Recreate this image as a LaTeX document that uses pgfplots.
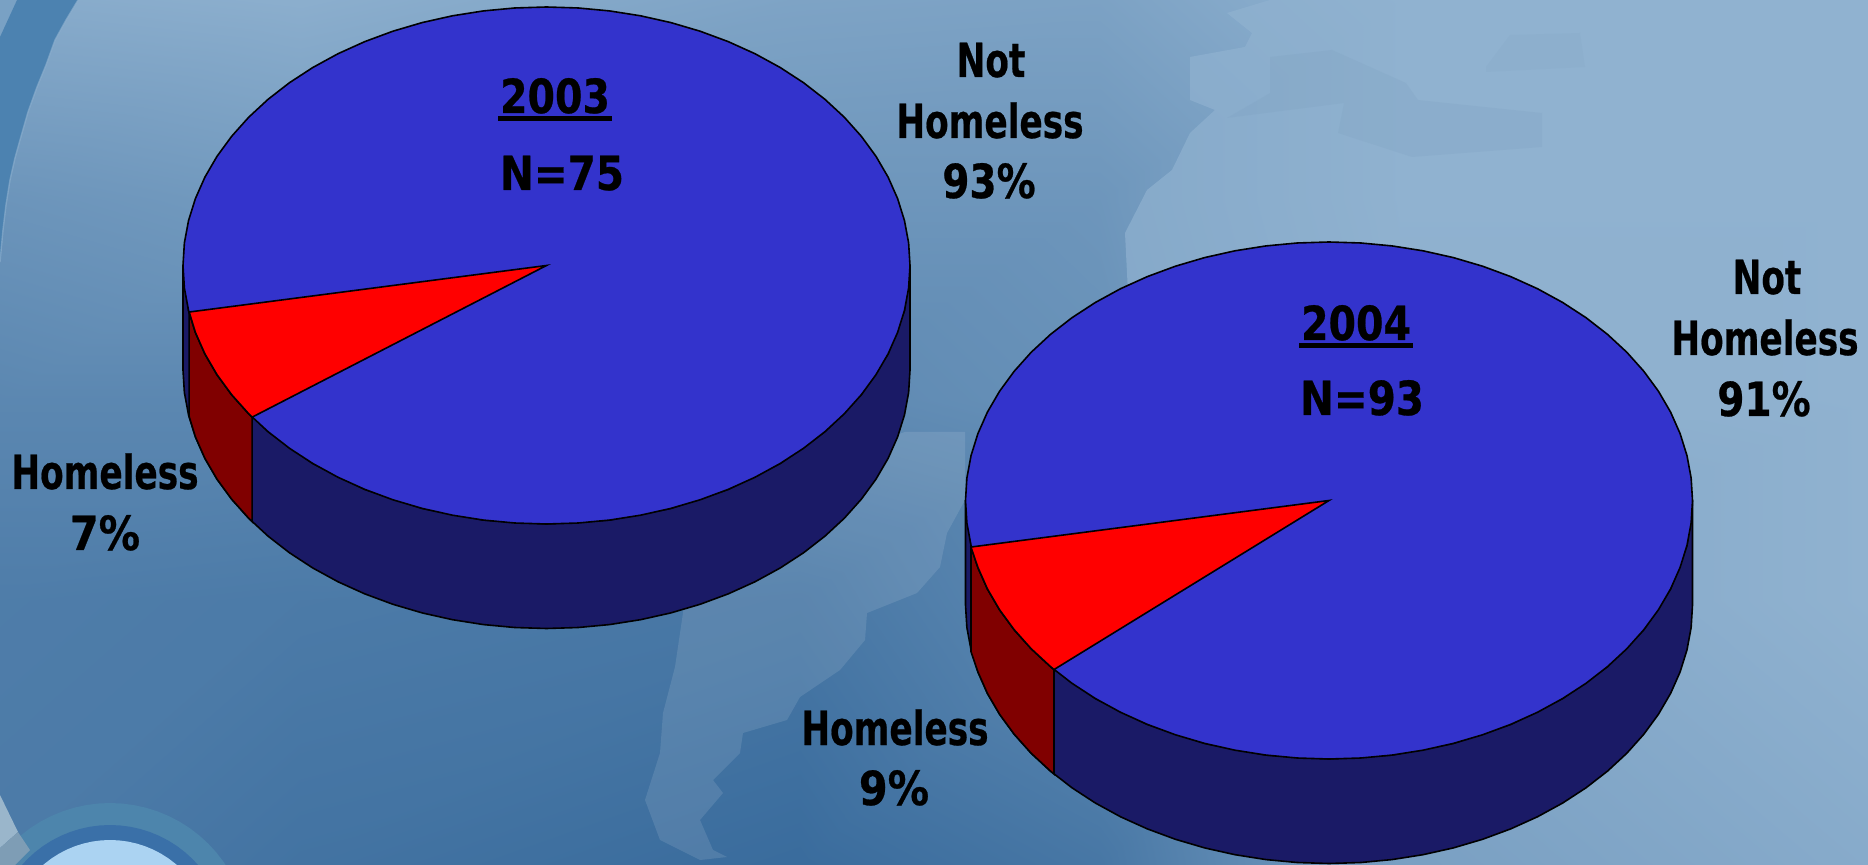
\documentclass[border=0pt]{standalone}
\usepackage{pgfplots}
\usepackage{pgfplotstable}
\usepackage{fontspec}
\setmainfont[BoldFeatures={FakeBold=0.6}]{DejaVu Sans}
\pgfplotsset{compat=1.18}
\usepgfplotslibrary{patchplots}

\definecolor{pieblue}{HTML}{3333CC}
\definecolor{pienavy}{HTML}{1A1A66}
\definecolor{piered}{HTML}{FF0000}
\definecolor{piedark}{HTML}{800000}
\definecolor{landlt}{HTML}{90B2D0}
\definecolor{seadk}{HTML}{7C9FBF}
\definecolor{bluefill}{HTML}{4C82B0}
\definecolor{globe}{HTML}{ABD3F2}
\definecolor{ringdk}{HTML}{3A70A8}
\definecolor{ringlt}{HTML}{4D85AC}
\definecolor{cornerlt}{HTML}{9AB6CB}
\definecolor{cornergr}{HTML}{7E9DB5}

% background brightness, 0 = dark ocean, 1 = pale land
\pgfplotstableread{
x y m
0 0 .90
300 0 .95
800 0 .80
1100 0 .78
1400 0 1
1868 0 1
0 200 .60
300 200 .68
800 200 .62
1100 200 .62
1400 200 1
1868 200 1
0 400 .42
300 400 .42
800 400 .45
1100 400 .55
1400 400 .95
1868 400 1
0 600 .28
300 600 .25
800 600 .20
1100 600 .45
1400 600 .85
1868 600 1
0 865 .25
300 865 .15
800 865 .05
1100 865 .20
1400 865 .75
1868 865 .90
}\bggrid

% unit ellipse, every 5 degrees
\pgfplotstableread{
u v
1.0000 0.0000
0.9962 0.0872
0.9848 0.1736
0.9659 0.2588
0.9397 0.3420
0.9063 0.4226
0.8660 0.5000
0.8192 0.5736
0.7660 0.6428
0.7071 0.7071
0.6428 0.7660
0.5736 0.8192
0.5000 0.8660
0.4226 0.9063
0.3420 0.9397
0.2588 0.9659
0.1736 0.9848
0.0872 0.9962
0.0000 1.0000
-0.0872 0.9962
-0.1736 0.9848
-0.2588 0.9659
-0.3420 0.9397
-0.4226 0.9063
-0.5000 0.8660
-0.5736 0.8192
-0.6428 0.7660
-0.7071 0.7071
-0.7660 0.6428
-0.8192 0.5736
-0.8660 0.5000
-0.9063 0.4226
-0.9397 0.3420
-0.9659 0.2588
-0.9848 0.1736
-0.9962 0.0872
-1.0000 0.0000
-0.9962 -0.0872
-0.9848 -0.1736
-0.9659 -0.2588
-0.9397 -0.3420
-0.9063 -0.4226
-0.8660 -0.5000
-0.8192 -0.5736
-0.7660 -0.6428
-0.7071 -0.7071
-0.6428 -0.7660
-0.5736 -0.8192
-0.5000 -0.8660
-0.4226 -0.9063
-0.3420 -0.9397
-0.2588 -0.9659
-0.1736 -0.9848
-0.0872 -0.9962
0.0000 -1.0000
0.0872 -0.9962
0.1736 -0.9848
0.2588 -0.9659
0.3420 -0.9397
0.4226 -0.9063
0.5000 -0.8660
0.5736 -0.8192
0.6428 -0.7660
0.7071 -0.7071
0.7660 -0.6428
0.8192 -0.5736
0.8660 -0.5000
0.9063 -0.4226
0.9397 -0.3420
0.9659 -0.2588
0.9848 -0.1736
0.9962 -0.0872
}\rim

% front wall: upper rim right to left, lower rim back (d=1)
\pgfplotstableread{
u v d
1.0000 0.0000 0
0.9848 0.1736 0
0.9397 0.3420 0
0.8660 0.5000 0
0.7660 0.6428 0
0.6428 0.7660 0
0.5000 0.8660 0
0.3420 0.9397 0
0.1736 0.9848 0
0.0000 1.0000 0
-0.1736 0.9848 0
-0.3420 0.9397 0
-0.5000 0.8660 0
-0.6428 0.7660 0
-0.7660 0.6428 0
-0.8660 0.5000 0
-0.9397 0.3420 0
-0.9848 0.1736 0
-1.0000 0.0000 0
-1.0000 0.0000 1
-0.9962 0.0872 1
-0.9848 0.1736 1
-0.9659 0.2588 1
-0.9397 0.3420 1
-0.9063 0.4226 1
-0.8660 0.5000 1
-0.8192 0.5736 1
-0.7660 0.6428 1
-0.7071 0.7071 1
-0.6428 0.7660 1
-0.5736 0.8192 1
-0.5000 0.8660 1
-0.4226 0.9063 1
-0.3420 0.9397 1
-0.2588 0.9659 1
-0.1736 0.9848 1
-0.0872 0.9962 1
0.0000 1.0000 1
0.0872 0.9962 1
0.1736 0.9848 1
0.2588 0.9659 1
0.3420 0.9397 1
0.4226 0.9063 1
0.5000 0.8660 1
0.5736 0.8192 1
0.6428 0.7660 1
0.7071 0.7071 1
0.7660 0.6428 1
0.8192 0.5736 1
0.8660 0.5000 1
0.9063 0.4226 1
0.9397 0.3420 1
0.9659 0.2588 1
0.9848 0.1736 1
0.9962 0.0872 1
1.0000 0.0000 1
}\wall

% Homeless slice, 7 %
\pgfplotstableread{
u v
0 0
-0.9830 0.1800
-0.9659 0.2588
-0.9397 0.3420
-0.9063 0.4226
-0.8660 0.5000
-0.8192 0.5736
-0.8098 0.5867
}\sliceA
\pgfplotstableread{
u v d
-0.9830 0.1800 0
-0.9659 0.2588 0
-0.9397 0.3420 0
-0.9063 0.4226 0
-0.8660 0.5000 0
-0.8192 0.5736 0
-0.8098 0.5867 0
-0.8098 0.5867 1
-0.8192 0.5736 1
-0.8660 0.5000 1
-0.9063 0.4226 1
-0.9397 0.3420 1
-0.9659 0.2588 1
-0.9830 0.1800 1
}\wallA

% Homeless slice, 9 %
\pgfplotstableread{
u v
0 0
-0.9850 0.1800
-0.9659 0.2588
-0.9397 0.3420
-0.9063 0.4226
-0.8660 0.5000
-0.8192 0.5736
-0.7660 0.6428
-0.7565 0.6540
}\sliceB
\pgfplotstableread{
u v d
-0.9850 0.1800 0
-0.9659 0.2588 0
-0.9397 0.3420 0
-0.9063 0.4226 0
-0.8660 0.5000 0
-0.8192 0.5736 0
-0.7660 0.6428 0
-0.7565 0.6540 0
-0.7565 0.6540 1
-0.7660 0.6428 1
-0.8192 0.5736 1
-0.8660 0.5000 1
-0.9063 0.4226 1
-0.9397 0.3420 1
-0.9659 0.2588 1
-0.9850 0.1800 1
}\wallB

% cx, cy, slice table, slice wall table
\newcommand\pie[4]{%
  \addplot[fill=pienavy, draw=black, line width=0.8pt]
    table[x expr=#1+363.5*\thisrow{u}, y expr=#2+258.5*\thisrow{v}+104.5*\thisrow{d}] {\wall} -- cycle;
  \addplot[fill=piedark, draw=black, line width=0.8pt]
    table[x expr=#1+363.5*\thisrow{u}, y expr=#2+258.5*\thisrow{v}+104.5*\thisrow{d}] {#4} -- cycle;
  \addplot[fill=pieblue, draw=black, line width=0.8pt]
    table[x expr=#1+363.5*\thisrow{u}, y expr=#2+258.5*\thisrow{v}] {\rim} -- cycle;
  \addplot[fill=piered, draw=black, line width=0.8pt]
    table[x expr=#1+363.5*\thisrow{u}, y expr=#2+258.5*\thisrow{v}] {#3} -- cycle;
}
% one line of text by its baseline
\newcommand\lab[4][.73]{%
  \node[anchor=base, inner sep=0pt, text=black] at (axis cs:#2,#3)
    {\fontsize{23.5}{28}\selectfont\bfseries\scalebox{#1}[1]{#4}};
}
\newcommand\yr[1]{\vtop{\hbox{\kern1pt #1\kern1pt}\kern1.2pt\hrule height 2.4pt}}

\begin{document}
\begin{tikzpicture}
\begin{axis}[
    scale only axis, width=934pt, height=432.5pt,
    xmin=0, xmax=1868, ymin=0, ymax=865, y dir=reverse,
    hide axis,
    colormap={bg}{rgb255(0cm)=(53,104,154); rgb255(1cm)=(144,178,208)},
    point meta min=0, point meta max=1,
  ]
  % background
  \addplot[surf, shader=interp, mesh/cols=6, point meta=explicit]
    table[x=x, y=y, meta=m] {\bggrid};
  % Africa and Spain
  \addplot[fill=landlt, fill opacity=.7, draw=none] coordinates {
    (1128,293) (1125,233) (1147,190) (1172,170) (1190,133) (1215,110) (1190,100)
    (1190,57) (1245,47) (1252,33) (1227,13) (1270,0) (1868,0) (1868,420) (1300,420)
  } -- cycle;
  % Mediterranean
  \addplot[fill=seadk, fill opacity=.22, draw=none] coordinates {
    (1270,57) (1332,50) (1406,83) (1418,100) (1542,113) (1542,147) (1412,157)
    (1338,133) (1344,103) (1227,118) (1270,93)
  } -- cycle;
  \addplot[fill=seadk, fill opacity=.15, draw=none] coordinates {
    (1486,67) (1510,35) (1580,33) (1585,67) (1486,72)
  } -- cycle;
  % South America
  \addplot[fill=white, fill opacity=.11, draw=none] coordinates {
    (965,432) (965,500) (947,533) (940,567) (917,593) (867,613) (865,640) (840,670)
    (800,697) (787,720) (743,733) (740,753) (713,780) (723,793) (700,820) (713,850)
    (727,857) (700,860) (660,840) (645,800) (660,753) (663,713) (675,667) (683,613)
    (690,500) (905,432)
  } -- cycle;
  % corner swoosh, top left
  \addplot[fill=white!25!bluefill, draw=none] coordinates {(0,0) (17,0) (0,37)} -- cycle;
  \addplot[fill=bluefill, draw=none] coordinates {
    (17,0) (78,0) (66,20) (55,40) (46,65) (37,87) (28,112) (20,140) (15,158) (10,180)
    (6,205) (3,230) (0,262) (0,37)
  } -- cycle;
  \addplot[draw=landlt, draw opacity=.6, line width=0.7pt] coordinates {
    (78,0) (66,20) (55,40) (46,65) (37,87) (28,112) (20,140) (15,158) (10,180)
    (6,205) (3,230) (0,262)
  };
  % globe, bottom left
  \addplot[fill=ringlt, draw=none]
    table[x expr=110+139*\thisrow{u}, y expr=942+139*\thisrow{v}] {\rim} -- cycle;
  \addplot[fill=ringdk, draw=none]
    table[x expr=110+117*\thisrow{u}, y expr=942+117*\thisrow{v}] {\rim} -- cycle;
  \addplot[fill=globe, draw=none]
    table[x expr=110+102*\thisrow{u}, y expr=942+102*\thisrow{v}] {\rim} -- cycle;
  \addplot[fill=cornerlt, draw=none] coordinates {(0,795) (18,832) (0,848)} -- cycle;
  \addplot[fill=cornergr, draw=none] coordinates {(18,832) (30,850) (15,865) (0,865) (0,848)} -- cycle;
  % pies
  \pie{546.5}{265.5}{\sliceA}{\wallA}
  \pie{1329}{500.5}{\sliceB}{\wallB}
  % text, 2003
  \lab[.84]{555}{113}{\yr{2003}}
  \lab[.86]{562}{190}{N=75}
  \lab{991}{77}{Not}
  \lab{990}{138}{Homeless}
  \lab[.83]{989}{198}{93\%}
  \lab{105}{489}{Homeless}
  \lab[.88]{105}{550}{7\%}
  % text, 2004
  \lab[.84]{1356}{340}{\yr{2004}}
  \lab[.86]{1362}{415}{N=93}
  \lab{1767}{294}{Not}
  \lab{1765}{355}{Homeless}
  \lab[.83]{1764}{416}{91\%}
  \lab{895}{745}{Homeless}
  \lab[.88]{894}{805}{9\%}
\end{axis}
\end{tikzpicture}
\end{document}
